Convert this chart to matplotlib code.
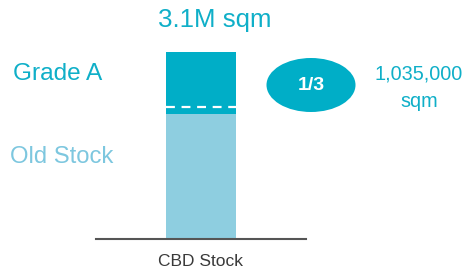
import matplotlib
matplotlib.use("Agg")
import matplotlib.pyplot as plt
from matplotlib.patches import Ellipse

plt.rcParams["font.family"] = ["Liberation Sans", "DejaVu Sans"]

CATEGORIES = ["CBD Stock"]
OLD_STOCK = [2.065]      # million sqm
GRADE_A = [1.035]        # million sqm
TOTAL_LABEL = "3.1M sqm"
SHARE_LABEL = "1/3"
GRADE_A_LABEL = "1,035,000\nsqm"

DARK = "#00AEC7"
LIGHT = "#8ECEE0"
TEXT_DARK = "#0FAFC8"
TEXT_LIGHT = "#7DC7DF"

W, H = 472, 268
fig = plt.figure(figsize=(W / 100, H / 100), dpi=100, facecolor="white")
ax = fig.add_axes([96 / W, (H - 239) / H, 210 / W, (239 - 52) / H])

x = range(len(CATEGORIES))
ax.bar(x, OLD_STOCK, width=1.0, color=LIGHT, linewidth=0)
ax.bar(x, GRADE_A, width=1.0, bottom=OLD_STOCK, color=DARK, linewidth=0)
# dashed divider just inside the Grade A block
for i in x:
    y = OLD_STOCK[i] + 0.12
    ax.plot([i - 0.5, i + 0.5], [y, y], color="white", lw=1.6, ls=(0, (4, 3)))

ax.set_xlim(-1.48, 1.48)
ax.set_ylim(0, OLD_STOCK[0] + GRADE_A[0])
for side in ("top", "right", "left"):
    ax.spines[side].set_visible(False)
ax.spines["bottom"].set_color("#555555")
ax.spines["bottom"].set_linewidth(1.5)
ax.set_yticks([])
ax.set_xticks([])

fig.text(201 / W, 1 - 262 / H, CATEGORIES[0], ha="center", va="center", fontsize=12.5, color="#3A3A3A")
fig.text(214.5 / W, 1 - 20 / H, TOTAL_LABEL, ha="center", va="center", fontsize=18.6, color=TEXT_DARK)
fig.text(13 / W, 1 - 74 / H, "Grade A", ha="left", va="center", fontsize=17.6, color=TEXT_DARK)
fig.text(10 / W, 1 - 157 / H, "Old Stock", ha="left", va="center", fontsize=17.2, color=TEXT_LIGHT)

fig.patches.append(Ellipse((311 / W, 1 - 85 / H), 89 / W, 54 / H, transform=fig.transFigure,
                           facecolor=DARK, edgecolor="none"))
fig.text(311 / W, 1 - 85 / H, SHARE_LABEL, ha="center", va="center", fontsize=14,
         fontweight="bold", color="white")
fig.text(419 / W, 1 - 88 / H, GRADE_A_LABEL, ha="center", va="center", fontsize=14.3,
         color=TEXT_DARK, linespacing=1.55)

fig.savefig("out.png", dpi=100, facecolor="white")
